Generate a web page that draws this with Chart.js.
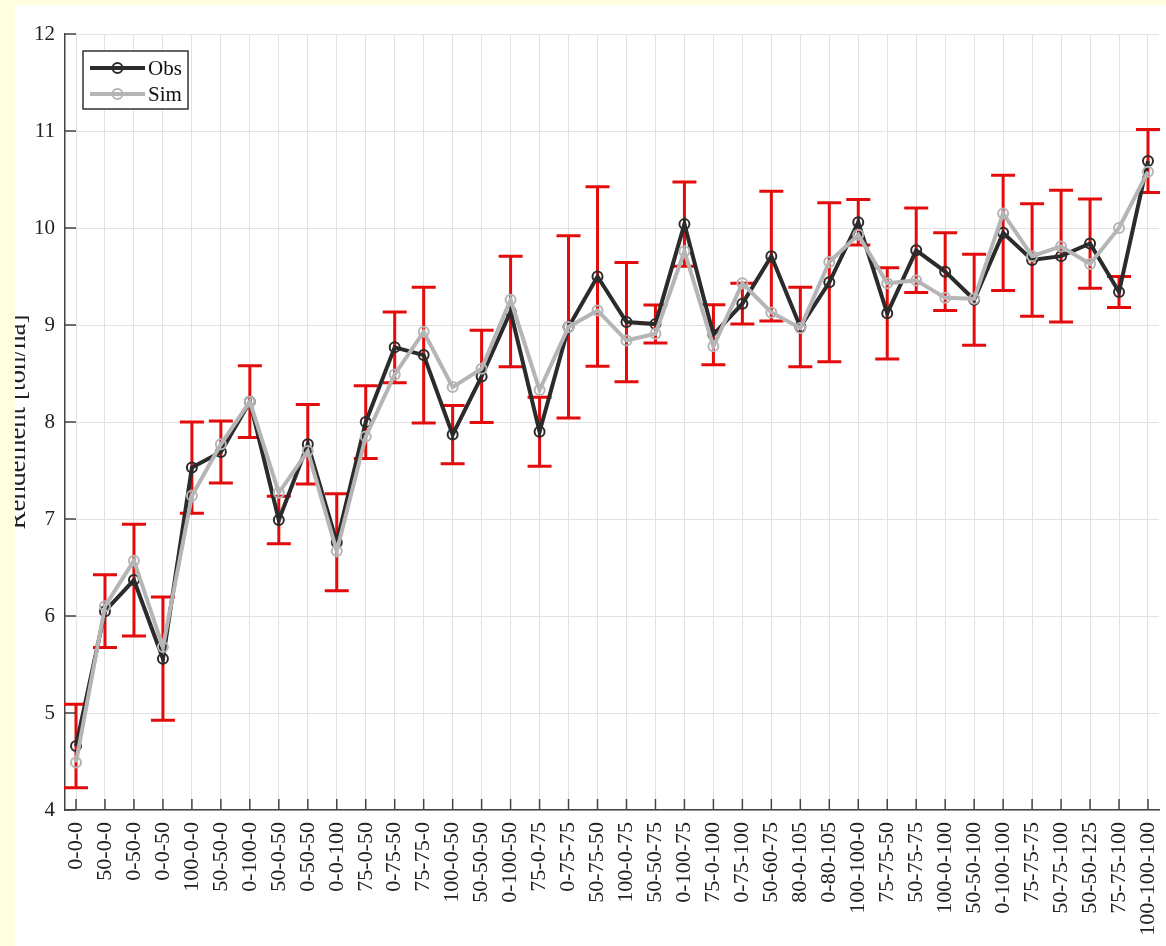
<!DOCTYPE html>
<html><head><meta charset="utf-8">
<script src="https://cdn.jsdelivr.net/npm/chart.js@4/dist/chart.umd.min.js"></script>
<style>
html,body{margin:0;padding:0;background:#FFFFE0;width:1166px;height:946px;overflow:hidden}
#wrap{position:absolute;left:15px;top:5px;width:1151px;height:941px;background:#fff}
canvas{display:block}
</style></head><body>
<div id="wrap"><canvas id="c" width="1151" height="941"></canvas></div>
<script>
const categories = ["0-0-0","50-0-0","0-50-0","0-0-50","100-0-0","50-50-0","0-100-0","50-0-50","0-50-50","0-0-100",
  "75-0-50","0-75-50","75-75-0","100-0-50","50-50-50","0-100-50","75-0-75","0-75-75","50-75-50","100-0-75",
  "50-50-75","0-100-75","75-0-100","0-75-100","50-60-75","80-0-105","0-80-105","100-100-0","75-75-50","50-75-75",
  "100-0-100","50-50-100","0-100-100","75-75-75","50-75-100","50-50-125","75-75-100","100-100-100"];
const obsValues = [4.66,6.05,6.37,5.56,7.53,7.69,8.21,6.99,7.77,6.76,
  8.00,8.77,8.69,7.87,8.47,9.14,7.90,8.98,9.50,9.03,
  9.01,10.04,8.90,9.22,9.71,8.98,9.44,10.06,9.12,9.77,
  9.55,9.26,9.95,9.67,9.71,9.84,9.34,10.69];
const simValues = [4.49,6.10,6.57,5.68,7.24,7.77,8.21,7.27,7.70,6.67,
  7.85,8.49,8.93,8.36,8.55,9.26,8.33,8.98,9.15,8.84,
  8.91,9.76,8.78,9.43,9.13,8.97,9.65,9.93,9.43,9.46,
  9.28,9.27,10.15,9.71,9.81,9.63,10.00,10.58];
const obsError = [0.43,0.375,0.575,0.635,0.47,0.32,0.37,0.245,0.41,0.50,
  0.375,0.365,0.70,0.30,0.475,0.57,0.355,0.94,0.925,0.615,
  0.195,0.435,0.31,0.21,0.67,0.41,0.82,0.235,0.47,0.435,
  0.40,0.47,0.595,0.58,0.68,0.46,0.16,0.325];
const seriesNames = ["Obs","Sim"];
const yAxisTitle = "Rendement [ton/ha]";

const FONT = '"Liberation Serif","Times New Roman",serif';
const OBS_COLOR = '#2b2b2b', SIM_COLOR = '#b5b5b5', ERR_COLOR = '#e30b0b';

const errorBars = {
  id: 'errorBars',
  beforeDatasetsDraw(chart) {
    const {ctx, scales:{x, y}} = chart;
    ctx.save();
    ctx.strokeStyle = ERR_COLOR; ctx.lineWidth = 3;
    obsValues.forEach((v, i) => {
      const px = x.getPixelForValue(i + 1);
      const top = y.getPixelForValue(v + obsError[i]);
      const bot = y.getPixelForValue(v - obsError[i]);
      ctx.beginPath();
      ctx.moveTo(px, top); ctx.lineTo(px, bot);
      ctx.moveTo(px - 12, top); ctx.lineTo(px + 12, top);
      ctx.moveTo(px - 12, bot); ctx.lineTo(px + 12, bot);
      ctx.stroke();
    });
    // inward tick marks
    ctx.strokeStyle = '#444'; ctx.lineWidth = 1.5;
    ctx.beginPath();
    y.ticks.forEach(t => { const py = y.getPixelForValue(t.value); ctx.moveTo(x.left, py); ctx.lineTo(x.left + 11, py); });
    x.ticks.forEach(t => { const px = x.getPixelForValue(t.value); ctx.moveTo(px, y.bottom); ctx.lineTo(px, y.bottom - 11); });
    ctx.stroke();
    ctx.restore();
  },
  afterDraw(chart) {
    const {ctx, chartArea:a} = chart;
    ctx.save();
    // y axis title (partially clipped by canvas edge like the reference)
    ctx.translate(10, (a.top + a.bottom) / 2);
    ctx.rotate(-Math.PI / 2);
    ctx.font = '27px ' + FONT; ctx.fillStyle = '#222';
    ctx.textAlign = 'center'; ctx.textBaseline = 'alphabetic';
    ctx.fillText(yAxisTitle, 0, 0);
    ctx.restore();
    // legend box
    ctx.save();
    const bx = a.left + 18, by = a.top + 17;
    ctx.fillStyle = '#fff'; ctx.fillRect(bx, by, 105, 58);
    ctx.strokeStyle = '#333'; ctx.lineWidth = 1.5; ctx.strokeRect(bx, by, 105, 58);
    const rows = [[seriesNames[0], OBS_COLOR, by + 17], [seriesNames[1], SIM_COLOR, by + 43]];
    rows.forEach(([name, col, ly]) => {
      ctx.strokeStyle = col; ctx.lineWidth = 4;
      ctx.beginPath(); ctx.moveTo(bx + 7, ly); ctx.lineTo(bx + 62, ly); ctx.stroke();
      ctx.lineWidth = 2; ctx.beginPath(); ctx.arc(bx + 34.5, ly, 5, 0, Math.PI * 2); ctx.stroke();
      ctx.fillStyle = '#111'; ctx.font = '21px ' + FONT;
      ctx.textAlign = 'left'; ctx.textBaseline = 'middle';
      ctx.fillText(name, bx + 65, ly + 1);
    });
    ctx.restore();
  }
};

new Chart(document.getElementById('c'), {
  type: 'line',
  data: {
    datasets: [
      { label: seriesNames[0], data: obsValues.map((v, i) => ({x: i + 1, y: v})),
        borderColor: OBS_COLOR, borderWidth: 4, pointRadius: 5, pointBorderWidth: 2,
        pointBorderColor: OBS_COLOR, pointBackgroundColor: 'rgba(0,0,0,0)', tension: 0, order: 2 },
      { label: seriesNames[1], data: simValues.map((v, i) => ({x: i + 1, y: v})),
        borderColor: SIM_COLOR, borderWidth: 4, pointRadius: 5, pointBorderWidth: 2,
        pointBorderColor: SIM_COLOR, pointBackgroundColor: 'rgba(0,0,0,0)', tension: 0, order: 1 }
    ]
  },
  options: {
    responsive: false, animation: false, devicePixelRatio: 1,
    layout: { padding: { left: 0, top: 29, right: 7, bottom: 0 } },
    plugins: { legend: { display: false }, tooltip: { enabled: false } },
    scales: {
      x: {
        type: 'linear', min: 0.62, max: 38.38,
        afterBuildTicks: s => { s.ticks = categories.map((_, i) => ({ value: i + 1 })); },
        afterFit: s => { s.height = 136; s.paddingLeft = 0; s.paddingRight = 0; },
        ticks: { autoSkip: false, minRotation: 90, maxRotation: 90, padding: 12,
          font: { family: FONT, size: 22 }, color: '#222',
          callback: v => categories[Math.round(v) - 1] },
        grid: { color: '#e2e2e2', lineWidth: 1, drawTicks: false },
        border: { display: true, color: '#444', width: 1.5 }
      },
      y: {
        min: 4, max: 12,
        afterFit: s => { s.width = 50; s.paddingTop = 0; s.paddingBottom = 0; },
        ticks: { stepSize: 1, padding: 10, font: { family: FONT, size: 21 }, color: '#222' },
        grid: { color: '#e2e2e2', lineWidth: 1, drawTicks: false },
        border: { display: true, color: '#444', width: 1.5 }
      }
    }
  },
  plugins: [errorBars]
});
</script>
</body></html>
